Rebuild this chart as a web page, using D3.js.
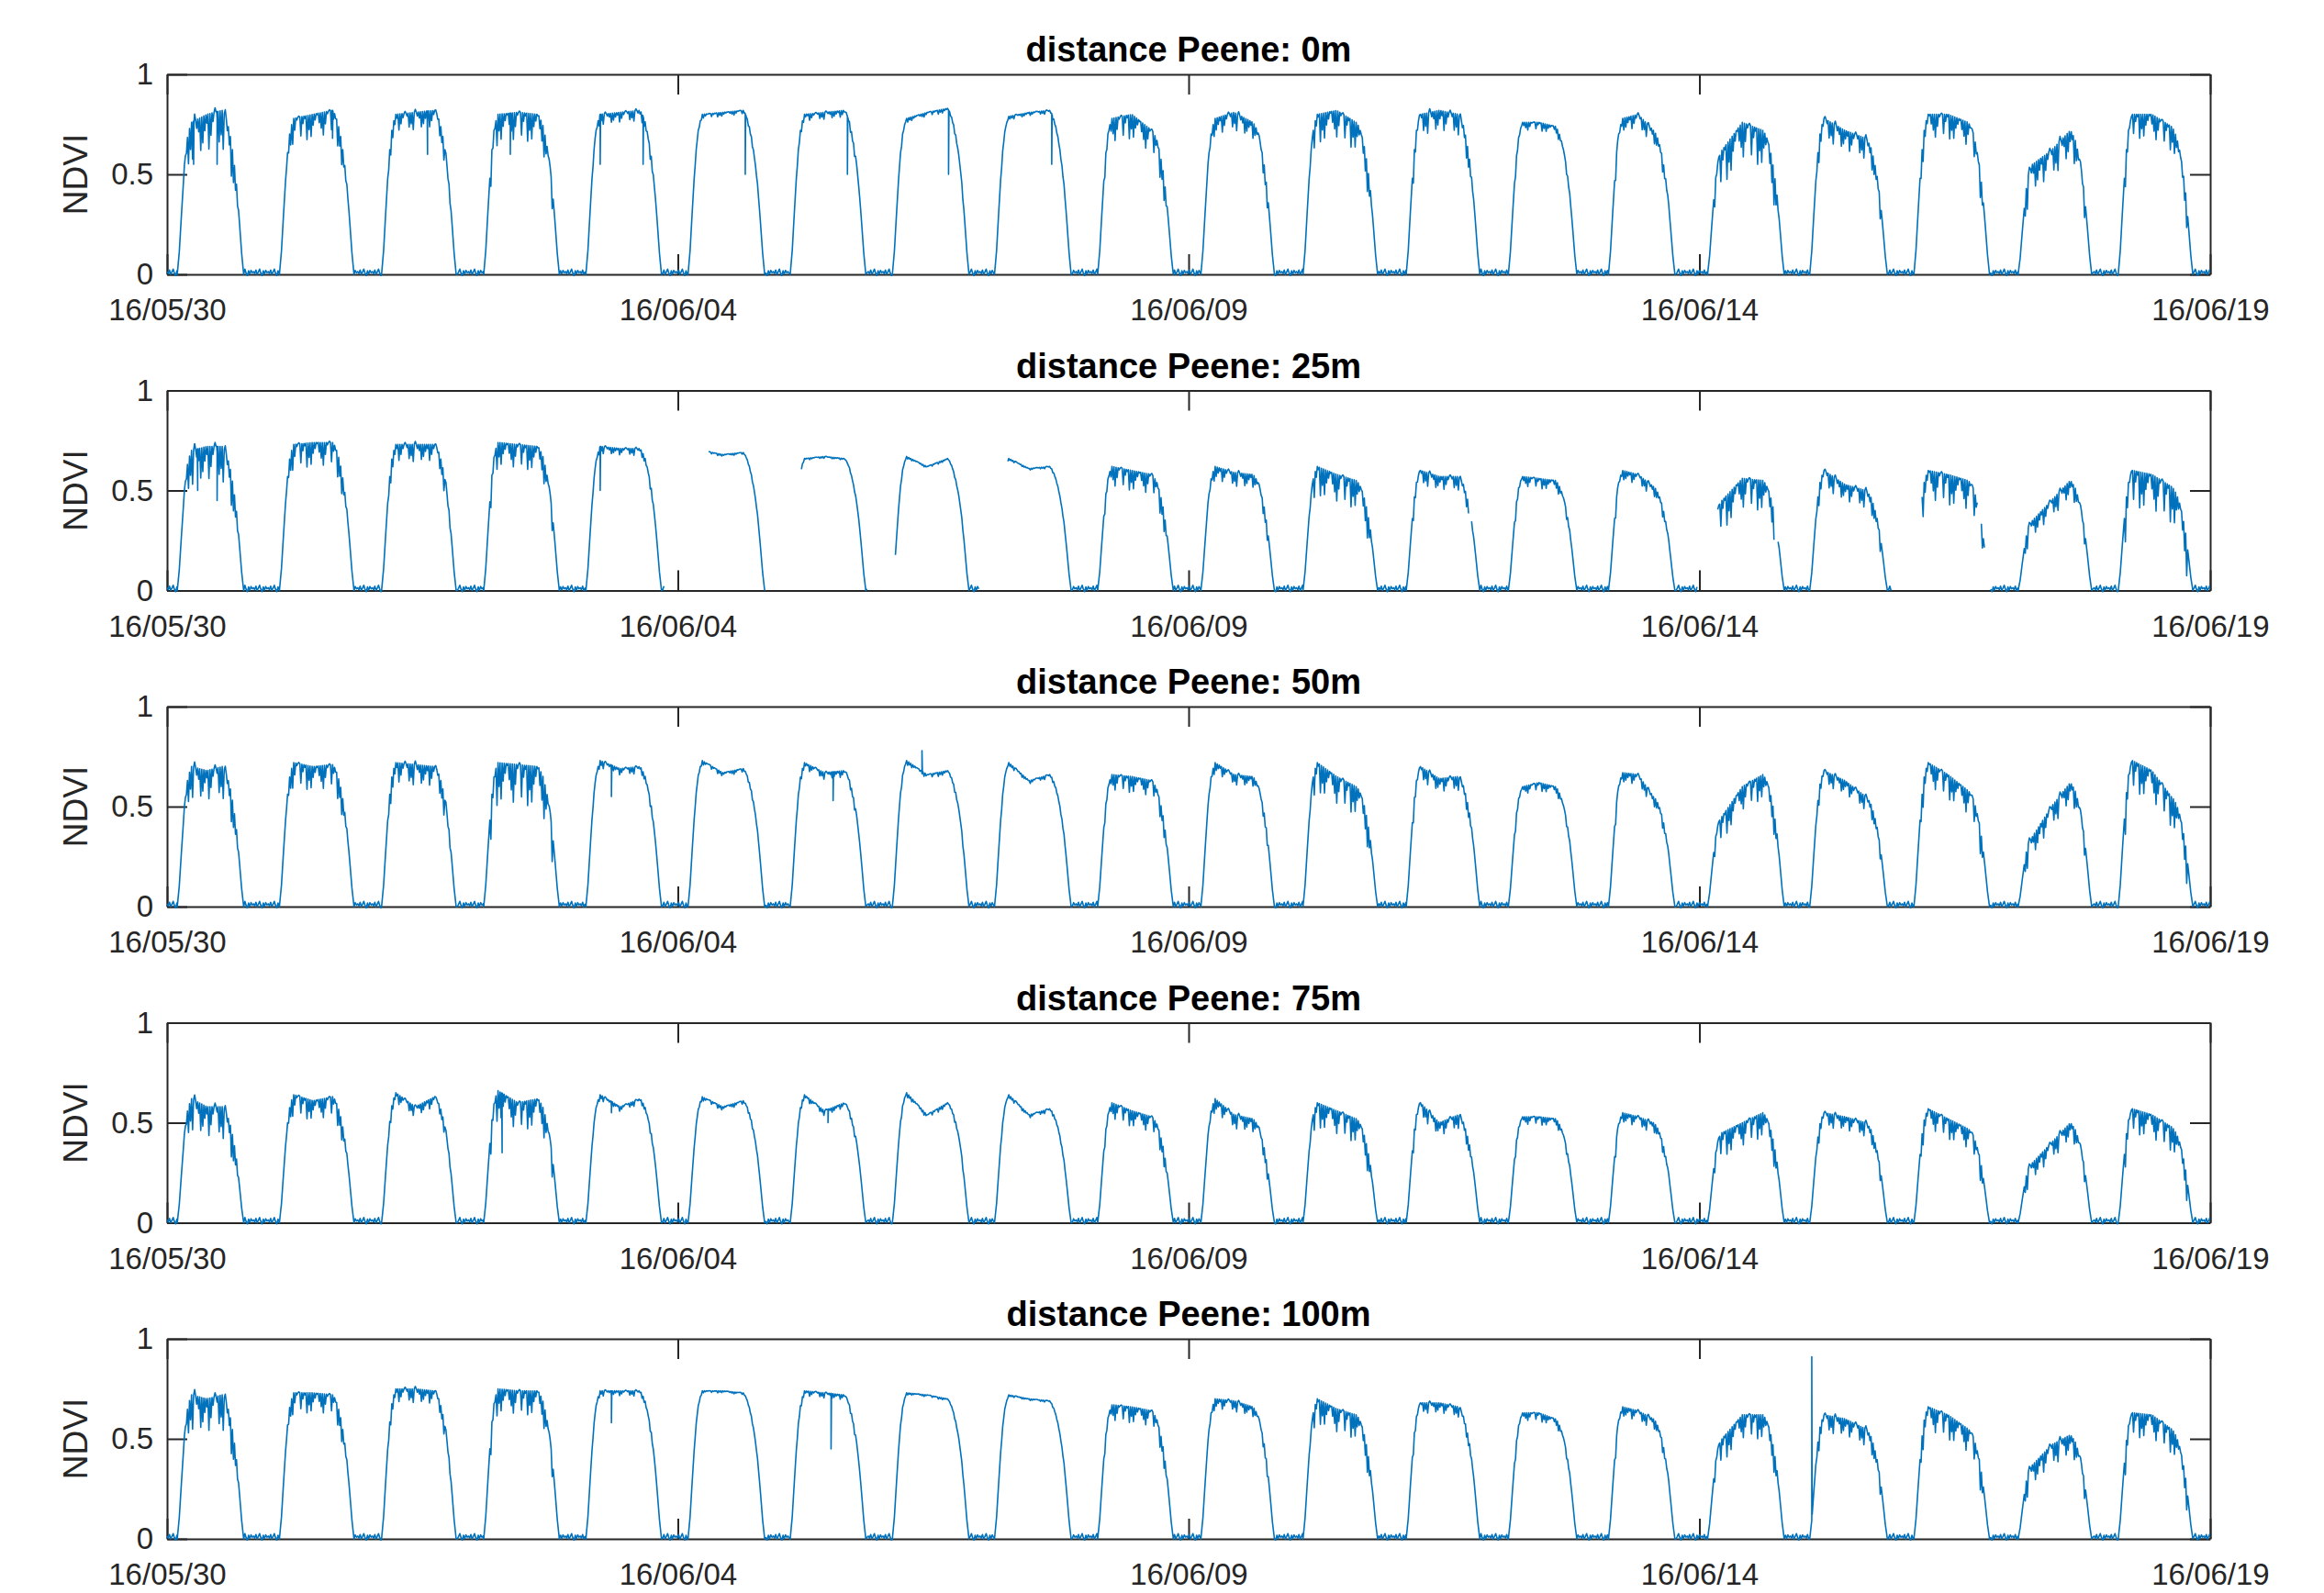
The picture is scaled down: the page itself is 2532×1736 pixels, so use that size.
<!DOCTYPE html>
<html>
<head>
<meta charset="utf-8">
<script src="https://cdn.jsdelivr.net/npm/d3@7"></script>
<style>
  body { margin: 0; background: #fff; }
  svg { display: block; background: #fff; font-family: 'Liberation Sans', Arial, Helvetica, sans-serif; }
  .axis text { fill: #262626; font-size: 33px; }
  .axis line, .axis path { stroke: #262626; stroke-width: 2; }
  .title { font-size: 38px; font-weight: bold; fill: #000; }
  .ylabel { font-size: 37px; fill: #262626; }
  .trace { fill: none; stroke: #0072bd; stroke-width: 1.6; stroke-linejoin: round; }
</style>
</head>
<body>
<svg id="chart" width="2532" height="1736"></svg>
<script>
// x ticks (every 5 days) and y ticks
const tickDays = ['2016-05-30', '2016-06-04', '2016-06-09', '2016-06-14', '2016-06-19'];
const yTicks = [0, 0.5, 1];
const distances = ['0m', '25m', '50m', '75m', '100m'];

// fraction of each day (May 30 .. June 18) where NDVI leaves 0 / is back to 0
const riseAt = [0.10, 0.10, 0.10, 0.10, 0.10, 0.10, 0.10, 0.10, 0.10, 0.11, 0.12, 0.12, 0.13, 0.13, 0.11, 0.08, 0.08, 0.10, 0.12, 0.10];
const fallAt = [0.75, 0.83, 0.83, 0.84, 0.84, 0.85, 0.84, 0.85, 0.85, 0.85, 0.84, 0.85, 0.85, 0.80, 0.76, 0.83, 0.84, 0.84, 0.84, 0.83];

// daily NDVI levels: morning, midday, afternoon, and how ragged the plateau is
const am0 = [0.76, 0.78, 0.80, 0.80, 0.80, 0.80, 0.80, 0.78, 0.79, 0.78, 0.78, 0.80, 0.80, 0.76, 0.78, 0.62, 0.78, 0.80, 0.55, 0.80];
const mid0 = [0.80, 0.80, 0.81, 0.81, 0.81, 0.81, 0.81, 0.81, 0.81, 0.80, 0.81, 0.82, 0.82, 0.76, 0.80, 0.76, 0.72, 0.80, 0.62, 0.80];
const pm0 = [0.82, 0.82, 0.82, 0.80, 0.82, 0.82, 0.82, 0.83, 0.82, 0.72, 0.76, 0.76, 0.80, 0.74, 0.72, 0.72, 0.68, 0.76, 0.72, 0.74];
const noise0 = [0.22, 0.12, 0.10, 0.14, 0.06, 0.02, 0.04, 0.02, 0.02, 0.12, 0.10, 0.14, 0.12, 0.04, 0.08, 0.18, 0.12, 0.12, 0.16, 0.12];
const dips0 = [[0.26, 0.55], [0.49, 0.55], [1.62, 0.68], [2.55, 0.6], [3.36, 0.6], [4.24, 0.55], [4.66, 0.55], [5.66, 0.5], [6.66, 0.5], [7.65, 0.5], [8.66, 0.55]];

const am1 = [0.70, 0.73, 0.73, 0.74, 0.72, 0.70, 0.66, 0.67, 0.66, 0.62, 0.62, 0.62, 0.60, 0.57, 0.60, 0.45, 0.60, 0.60, 0.35, 0.60];
const mid1 = [0.72, 0.74, 0.73, 0.73, 0.71, 0.68, 0.67, 0.62, 0.61, 0.60, 0.59, 0.58, 0.57, 0.56, 0.58, 0.56, 0.53, 0.58, 0.45, 0.58];
const pm1 = [0.72, 0.74, 0.73, 0.72, 0.71, 0.69, 0.66, 0.66, 0.62, 0.58, 0.58, 0.55, 0.57, 0.55, 0.52, 0.55, 0.50, 0.55, 0.55, 0.52];
const noise1 = [0.20, 0.12, 0.10, 0.12, 0.04, 0.01, 0.01, 0.01, 0.01, 0.10, 0.08, 0.14, 0.08, 0.05, 0.06, 0.15, 0.10, 0.15, 0.10, 0.18];
const dips1 = [[0.3, 0.5], [0.49, 0.45], [4.24, 0.5]];
const gaps1 = [[4.87, 5.30], [5.86, 6.20], [6.86, 7.13], [7.95, 8.23], [12.74, 12.77], [14.98, 15.18], [15.73, 15.77], [16.88, 17.18], [17.72, 17.76], [17.79, 17.85]];

const am2 = [0.70, 0.72, 0.72, 0.72, 0.73, 0.73, 0.72, 0.73, 0.72, 0.66, 0.72, 0.72, 0.70, 0.60, 0.67, 0.45, 0.68, 0.72, 0.35, 0.73];
const mid2 = [0.68, 0.70, 0.71, 0.71, 0.69, 0.67, 0.67, 0.66, 0.63, 0.65, 0.66, 0.65, 0.64, 0.62, 0.66, 0.60, 0.63, 0.66, 0.50, 0.68];
const pm2 = [0.70, 0.71, 0.70, 0.70, 0.70, 0.69, 0.68, 0.68, 0.66, 0.63, 0.65, 0.60, 0.65, 0.60, 0.55, 0.66, 0.55, 0.58, 0.62, 0.55];
const noise2 = [0.18, 0.12, 0.12, 0.20, 0.04, 0.02, 0.04, 0.02, 0.02, 0.08, 0.06, 0.14, 0.08, 0.04, 0.06, 0.12, 0.08, 0.12, 0.12, 0.15];
const dips2 = [[4.35, 0.55], [6.52, 0.53], [7.39, 0.78]];

const am3 = [0.62, 0.64, 0.65, 0.66, 0.64, 0.63, 0.64, 0.65, 0.64, 0.60, 0.62, 0.60, 0.60, 0.53, 0.55, 0.45, 0.55, 0.57, 0.30, 0.57];
const mid3 = [0.58, 0.61, 0.58, 0.60, 0.58, 0.58, 0.56, 0.54, 0.54, 0.56, 0.54, 0.56, 0.50, 0.53, 0.53, 0.50, 0.53, 0.52, 0.40, 0.54];
const pm3 = [0.58, 0.63, 0.63, 0.62, 0.62, 0.61, 0.60, 0.60, 0.57, 0.53, 0.52, 0.52, 0.54, 0.52, 0.50, 0.55, 0.50, 0.47, 0.50, 0.48];
const noise3 = [0.18, 0.10, 0.06, 0.14, 0.03, 0.02, 0.03, 0.02, 0.02, 0.08, 0.08, 0.12, 0.08, 0.04, 0.06, 0.12, 0.08, 0.10, 0.10, 0.12];
const dips3 = [[3.28, 0.35], [4.35, 0.55], [6.47, 0.5]];

const am4 = [0.72, 0.73, 0.75, 0.75, 0.74, 0.74, 0.74, 0.73, 0.72, 0.67, 0.70, 0.70, 0.68, 0.63, 0.66, 0.50, 0.62, 0.66, 0.37, 0.63];
const mid4 = [0.70, 0.73, 0.75, 0.74, 0.74, 0.74, 0.73, 0.72, 0.70, 0.66, 0.69, 0.65, 0.68, 0.63, 0.64, 0.62, 0.60, 0.62, 0.47, 0.62];
const pm4 = [0.72, 0.72, 0.74, 0.74, 0.74, 0.73, 0.72, 0.70, 0.69, 0.64, 0.66, 0.62, 0.66, 0.60, 0.60, 0.62, 0.55, 0.55, 0.52, 0.55];
const noise4 = [0.20, 0.10, 0.08, 0.12, 0.03, 0.01, 0.03, 0.01, 0.01, 0.08, 0.06, 0.12, 0.06, 0.04, 0.06, 0.12, 0.10, 0.12, 0.12, 0.12];
const dips4 = [[4.35, 0.58], [6.5, 0.45], [16.10, 0.91]];

// shape of sunrise / sunset (day offset, share of the level)
const riseShape = [[0, 0], [0.02, 0.15], [0.04, 0.38], [0.06, 0.6], [0.08, 0.78], [0.10, 0.9], [0.12, 0.96], [0.14, 1]];
const fallShape = [[-0.19, 0.98], [-0.16, 0.93], [-0.13, 0.84], [-0.10, 0.72], [-0.07, 0.55], [-0.045, 0.35], [-0.02, 0.13], [0, 0]];
// raggedness on the plateau and at night
const spikeDepth = [0.3, 0.8, 0.1, 0.5, 1.0, 0.2, 0.6, -0.1, 0.9, 0.15, 0.45, 0.7, 0.25, 0.55, 0.05, 0.85, 0.4, -0.15, 0.65, 0.2, 0.95, 0.3, 0.5, 0.75, 0.1, 0.6, -0.05, 0.35, 0.8, 0.2];
const nightJitter = [0.014, 0.004, 0.022, 0.0, 0.012, 0.026, 0.006, -0.008, 0.018, 0.002, 0.02, 0.008];

const DAY = 864e5;
const t0 = Date.parse(`${tickDays[0]}T00:00:00Z`);
const tEnd = Date.parse(`${tickDays[tickDays.length - 1]}T00:00:00Z`);
const nDays = Math.round((tEnd - t0) / DAY);

const panels = [
  { dist: distances[0], am: am0, mid: mid0, pm: pm0, noise: noise0, dips: dips0, gaps: [] },
  { dist: distances[1], am: am1, mid: mid1, pm: pm1, noise: noise1, dips: dips1, gaps: gaps1 },
  { dist: distances[2], am: am2, mid: mid2, pm: pm2, noise: noise2, dips: dips2, gaps: [] },
  { dist: distances[3], am: am3, mid: mid3, pm: pm3, noise: noise3, dips: dips3, gaps: [] },
  { dist: distances[4], am: am4, mid: mid4, pm: pm4, noise: noise4, dips: dips4, gaps: [] }
];

const dayKeys = (p, d) => {
  const r = d + riseAt[d];
  const f = d + fallAt[d];
  return [
    ...riseShape.map(([dt, m]) => [r + dt, m * p.am[d]]),
    [(r + 0.14 + f - 0.21) / 2, p.mid[d]],
    [f - 0.21, p.pm[d]],
    ...fallShape.map(([dt, m]) => [f + dt, m * p.pm[d]])
  ];
};

const byT = d3.bisector(k => k[0]);
const levelAt = (keys, t) => {
  if (t <= keys[0][0] || t >= keys[keys.length - 1][0]) return 0;
  const i = byT.right(keys, t);
  const [ta, va] = keys[i - 1];
  const [tb, vb] = keys[i];
  return va + ((vb - va) * (t - ta)) / (tb - ta);
};

const buildSeries = p => {
  const pts = [];
  let nightFrom = 0;
  const pushNight = (from, to, d) => {
    for (let k = 0, t = from; t < to; k += 1, t = from + (k * 0.012)) {
      pts.push([t, nightJitter[(k + (d * 5)) % nightJitter.length]]);
    }
  };
  for (let d = 0; d < nDays; d += 1) {
    const keys = dayKeys(p, d);
    const r = keys[0][0];
    const f = keys[keys.length - 1][0];
    pushNight(nightFrom, r, d);
    const steps = Math.round((f - r) / 0.01);
    for (let k = 0; k <= steps; k += 1) {
      const t = r + ((k * (f - r)) / steps);
      let v = levelAt(keys, t);
      if (k % 2 === 1 && t > r + 0.05 && t < f - 0.05) {
        v -= p.noise[d] * spikeDepth[(k + (d * 7)) % spikeDepth.length];
      }
      pts.push([t, v]);
    }
    p.dips.filter(([t]) => Math.floor(t) === d).forEach(([t, v]) => {
      pts.push([t - 0.004, levelAt(keys, t - 0.004)], [t, v], [t + 0.004, levelAt(keys, t + 0.004)]);
    });
    nightFrom = f + 0.012;
  }
  pushNight(nightFrom, nDays + 0.001, nDays);
  pts.sort((a, b) => a[0] - b[0]);
  return pts.map(([t, v]) => [t, p.gaps.some(([a, b]) => t > a && t < b) ? null : v]);
};

const L = 182;
const R = 2408;
const panelH = 218;
const panelTop = i => 81 + (i * 344.5);
const tick = 22;

const svg = d3.select('#chart');
const x = d3.scaleUtc().domain([new Date(t0), new Date(tEnd)]).range([L, R]);
const tickDates = tickDays.map(s => new Date(`${s}T00:00:00Z`));

panels.forEach((p, i) => {
  const y = d3.scaleLinear().domain([0, 1]).range([panelH, 0]);
  const g = svg.append('g').attr('transform', `translate(0,${panelTop(i)})`);

  g.append('defs').append('clipPath')
    .attr('id', `clip${i}`)
    .append('rect')
    .attr('x', L)
    .attr('y', -2)
    .attr('width', R - L)
    .attr('height', panelH + 4);

  g.append('g')
    .attr('class', 'axis')
    .attr('transform', `translate(0,${panelH})`)
    .call(d3.axisBottom(x).tickValues(tickDates).tickFormat(d3.utcFormat('%y/%m/%d'))
      .tickSizeInner(-tick).tickSizeOuter(0).tickPadding(27));
  g.append('g')
    .attr('class', 'axis')
    .call(d3.axisTop(x).tickValues(tickDates).tickFormat('')
      .tickSizeInner(-tick).tickSizeOuter(0));
  g.append('g')
    .attr('class', 'axis')
    .attr('transform', `translate(${L},0)`)
    .call(d3.axisLeft(y).tickValues(yTicks).tickFormat(d3.format('~g'))
      .tickSizeInner(-tick).tickSizeOuter(0).tickPadding(15));
  g.append('g')
    .attr('class', 'axis')
    .attr('transform', `translate(${R},0)`)
    .call(d3.axisRight(y).tickValues(yTicks).tickFormat('')
      .tickSizeInner(-tick).tickSizeOuter(0));

  const line = d3.line()
    .defined(d => d[1] !== null)
    .x(d => x(new Date(t0 + (d[0] * DAY))))
    .y(d => y(d[1]));

  g.append('path')
    .datum(buildSeries(p))
    .attr('class', 'trace')
    .attr('clip-path', `url(#clip${i})`)
    .attr('d', line);

  g.append('text')
    .attr('class', 'title')
    .attr('x', (L + R) / 2)
    .attr('y', -14)
    .attr('text-anchor', 'middle')
    .text(`distance Peene: ${p.dist}`);

  g.append('text')
    .attr('class', 'ylabel')
    .attr('text-anchor', 'middle')
    .attr('transform', `translate(95,${panelH / 2}) rotate(-90)`)
    .text('NDVI');
});
</script>
</body>
</html>
